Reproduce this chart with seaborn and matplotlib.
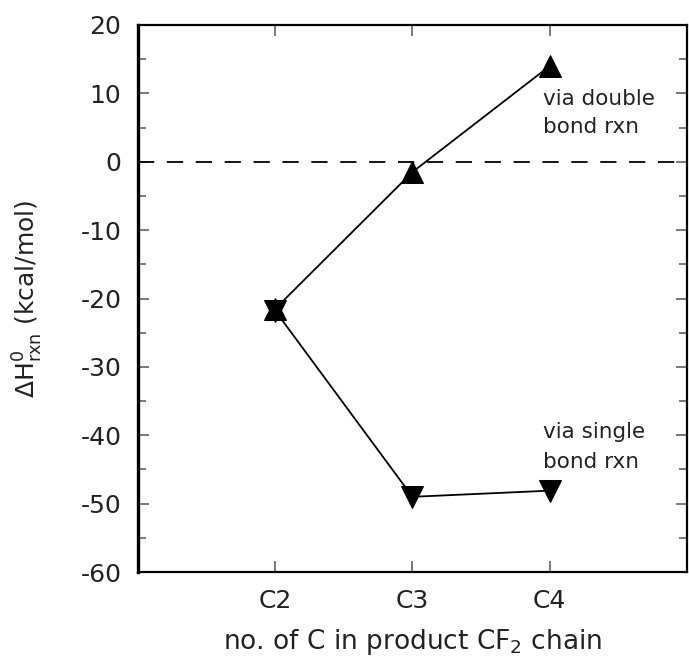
import numpy as np
import pandas as pd
import matplotlib
matplotlib.use('Agg')
import matplotlib.pyplot as plt
import seaborn as sns
from matplotlib.ticker import MultipleLocator

# ── Dados ───────────────────────────────────────────────────────────────────
chains = ['C2', 'C3', 'C4']
dh_double = [-21.5, -1.5, 14.0]
dh_single = [-21.8, -49.0, -48.1]

sns.set_theme(style='ticks')
plt.rcParams['font.family'] = ['DejaVu Sans']
plt.rcParams['axes.unicode_minus'] = False
plt.rcParams['mathtext.default'] = 'regular'

df = pd.DataFrame({
    'chain': chains * 2,
    'dh': dh_double + dh_single,
    'rxn': ['double'] * 3 + ['single'] * 3,
})

fig = plt.figure(figsize=(6.89, 6.61), dpi=100)
ax = fig.add_axes([0.2003, 0.1346, 0.7967, 0.8276])

ax.axhline(0, color='black', lw=1.3, dashes=(9, 7), zorder=1)

sns.lineplot(data=df[df.rxn == 'double'], x='chain', y='dh', color='black',
             lw=1.3, marker='^', markersize=16, markeredgecolor='black',
             sort=False, ax=ax)
sns.lineplot(data=df[df.rxn == 'single'], x='chain', y='dh', color='black',
             lw=1.3, marker='v', markersize=16, markeredgecolor='black',
             sort=False, ax=ax)

ax.set_xlim(-1, 3)
ax.set_ylim(-60, 20)
ax.yaxis.set_major_locator(MultipleLocator(10))
ax.yaxis.set_minor_locator(MultipleLocator(5))

ax.tick_params(axis='both', which='both', direction='in', top=True, right=True,
               labelsize=18, labelcolor='#222222', color='#555555')
ax.tick_params(axis='both', which='major', length=8, width=1.1)
ax.tick_params(axis='y', which='minor', length=6, width=1.1)
ax.tick_params(axis='y', which='major', pad=12)
ax.tick_params(axis='x', which='major', pad=12)

for side in ['top', 'right', 'bottom']:
    ax.spines[side].set_linewidth(1.6)
ax.spines['left'].set_linewidth(2.4)
for s in ax.spines.values():
    s.set_color('black')

ax.set_xlabel(r'no. of C in product CF$_2$ chain', fontsize=19, color='#222222', labelpad=10)
ax.set_ylabel(r'$\Delta$H$^0_{rxn}$ (kcal/mol)', fontsize=18, color='#222222')
ax.yaxis.set_label_coords(-0.17, 0.5)

txt = dict(fontsize=15.5, color='#222222', ha='left', va='baseline')
ax.text(1.95, 8.3, 'via double', **txt)
ax.text(1.95, 4.2, 'bond rxn', **txt)
ax.text(1.95, -40.4, 'via single', **txt)
ax.text(1.95, -44.8, 'bond rxn', **txt)

fig.savefig('out.png', dpi=100)
